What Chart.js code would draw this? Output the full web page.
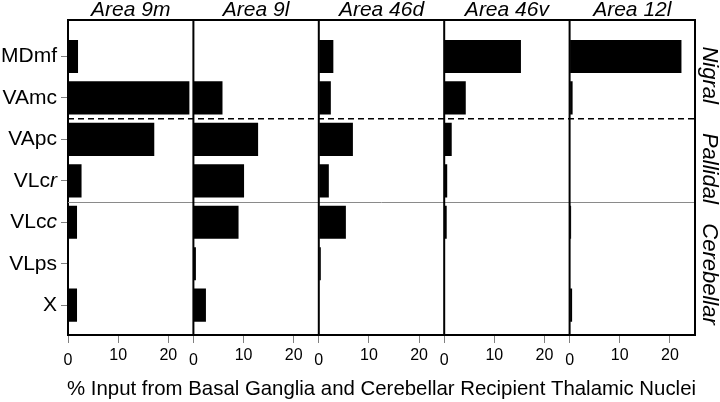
<!DOCTYPE html>
<html>
<head>
<meta charset="utf-8">
<script src="https://cdn.jsdelivr.net/npm/chart.js@4.4.0/dist/chart.umd.min.js"></script>
<style>
  html, body { margin: 0; padding: 0; background: #fff; }
</style>
</head>
<body>
<canvas id="chart" width="720" height="402"></canvas>
<script>
// thalamic nuclei (rows, top to bottom) and cortical areas (panels)
const nuclei = ['MDmf', 'VAmc', 'VApc', 'VLcr', 'VLcc', 'VLps', 'X'];
const areas = ['Area 9m', 'Area 9l', 'Area 46d', 'Area 46v', 'Area 12l'];

// % input, one array per area, same order as nuclei
const area9m  = [2.0, 24.2, 17.2, 2.7, 1.8, 0, 1.8];
const area9l  = [0, 5.8, 12.9, 10.1, 9.0, 0.5, 2.5];
const area46d = [2.9, 2.4, 6.8, 2.0, 5.4, 0.4, 0];
const area46v = [15.3, 4.3, 1.5, 0.6, 0.5, 0, 0];
const area12l = [22.3, 0.6, 0, 0, 0.3, 0, 0.5];

const xTicks = [0, 10, 20];
const groups = ['Nigral', 'Pallidal', 'Cerebellar'];
const groupCenters = [1.45, 3.7, 6.25];   // in row units
const groupBreaks = [2.5, 4.5];           // dashed, then solid grey

const FONT = "'Liberation Sans', Arial, sans-serif";
const series = [area9m, area9l, area46d, area46v, area12l];
const italicTail = ['', '', '', 'r', 'c', '', ''];

const datasets = series.map((vals, i) => ({
    label: areas[i],
    xAxisID: 'x' + i,
    yAxisID: 'y',
    data: vals.map((v, j) => ({ x: v, y: j + 1 })),
    backgroundColor: '#000',
    borderWidth: 0,
    grouped: false,
    categoryPercentage: 1,
    barPercentage: 0.8
}));

const scales = {
    y: {
        type: 'linear',
        position: 'left',
        reverse: true,
        offset: false,
        min: 0.12,
        max: 7.72,
        afterBuildTicks: axis => { axis.ticks = nuclei.map((n, i) => ({ value: i + 1 })); },
        afterFit: axis => { axis.width = 68; },
        ticks: { color: 'rgba(0,0,0,0)', padding: 4, font: { size: 21 } },
        grid: { offset: false, drawOnChartArea: false, tickLength: 7, color: '#808080' },
        border: { display: true, color: '#000', width: 2 }
    }
};
areas.forEach((a, i) => {
    scales['x' + i] = {
        type: 'linear',
        position: 'bottom',
        stack: 'panels',
        min: 0,
        max: 25,
        afterBuildTicks: axis => { axis.ticks = xTicks.map(v => ({ value: v })); },
        afterFit: axis => { axis.height = 67; },
        ticks: {
            color: '#000',
            padding: 3,
            maxRotation: 0,
            font: c => ({ family: FONT, size: 16, lineHeight: (c.tick && c.tick.value === 0) ? 1.8 : 1.2 })
        },
        grid: { drawOnChartArea: false, tickLength: 8, color: '#808080' },
        border: { display: true, color: '#000', width: 2 }
    };
});

const decorations = {
    id: 'decorations',
    afterDraw(chart) {
        const { ctx, chartArea: a } = chart;
        const y = chart.scales.y;
        ctx.save();

        // nigral / pallidal / cerebellar dividers
        let py = y.getPixelForValue(groupBreaks[0]);
        ctx.beginPath();
        ctx.setLineDash([6, 4]);
        ctx.strokeStyle = '#000';
        ctx.lineWidth = 1.5;
        ctx.moveTo(a.left, py); ctx.lineTo(a.right, py);
        ctx.stroke();
        py = Math.round(y.getPixelForValue(groupBreaks[1])) + 0.5;
        ctx.beginPath();
        ctx.setLineDash([]);
        ctx.strokeStyle = '#8a8a8a';
        ctx.lineWidth = 1;
        ctx.moveTo(a.left, py); ctx.lineTo(a.right, py);
        ctx.stroke();

        // frame top and panel separators
        ctx.beginPath();
        ctx.strokeStyle = '#000';
        ctx.lineWidth = 2;
        ctx.moveTo(a.left - 1, a.top); ctx.lineTo(a.right + 1, a.top);
        areas.forEach((_, i) => {
            const s = chart.scales['x' + i];
            ctx.moveTo(s.right, a.top); ctx.lineTo(s.right, a.bottom);
        });
        ctx.stroke();

        ctx.fillStyle = '#000';
        ctx.textBaseline = 'middle';

        // panel titles
        ctx.textAlign = 'center';
        ctx.font = 'italic 21px ' + FONT;
        areas.forEach((name, i) => {
            const s = chart.scales['x' + i];
            ctx.fillText(name, (s.left + s.right) / 2, a.top - 10);
        });

        // row labels (some end in an italic letter)
        const labelRight = y.right - y.options.grid.tickLength - y.options.ticks.padding;
        nuclei.forEach((name, i) => {
            const ly = y.getPixelForValue(i + 1);
            const tail = italicTail[i];
            const head = name.slice(0, name.length - tail.length);
            let lx = labelRight;
            ctx.textAlign = 'right';
            if (tail) {
                ctx.font = 'italic 21px ' + FONT;
                ctx.fillText(tail, lx, ly);
                lx -= ctx.measureText(tail).width;
            }
            ctx.font = '21px ' + FONT;
            ctx.fillText(head, lx, ly);
        });

        // group labels on the right, rotated
        ctx.textAlign = 'center';
        ctx.font = 'italic 22px ' + FONT;
        groups.forEach((g, i) => {
            ctx.save();
            ctx.translate(a.right + 14, y.getPixelForValue(groupCenters[i]));
            ctx.rotate(Math.PI / 2);
            ctx.fillText(g, 0, 0);
            ctx.restore();
        });

        // shared x axis title
        ctx.font = '20.4px ' + FONT;
        ctx.fillText('% Input from Basal Ganglia and Cerebellar Recipient Thalamic Nuclei',
            (a.left + a.right) / 2, chart.height - 13);

        ctx.restore();
    }
};

Chart.defaults.font.family = FONT;

new Chart(document.getElementById('chart'), {
    type: 'bar',
    data: { datasets: datasets },
    options: {
        indexAxis: 'y',
        responsive: false,
        animation: false,
        events: [],
        layout: { padding: { left: 0, top: 20, right: 25, bottom: 0 } },
        scales: scales,
        plugins: { legend: { display: false }, tooltip: { enabled: false } }
    },
    plugins: [decorations]
});
</script>
</body>
</html>
